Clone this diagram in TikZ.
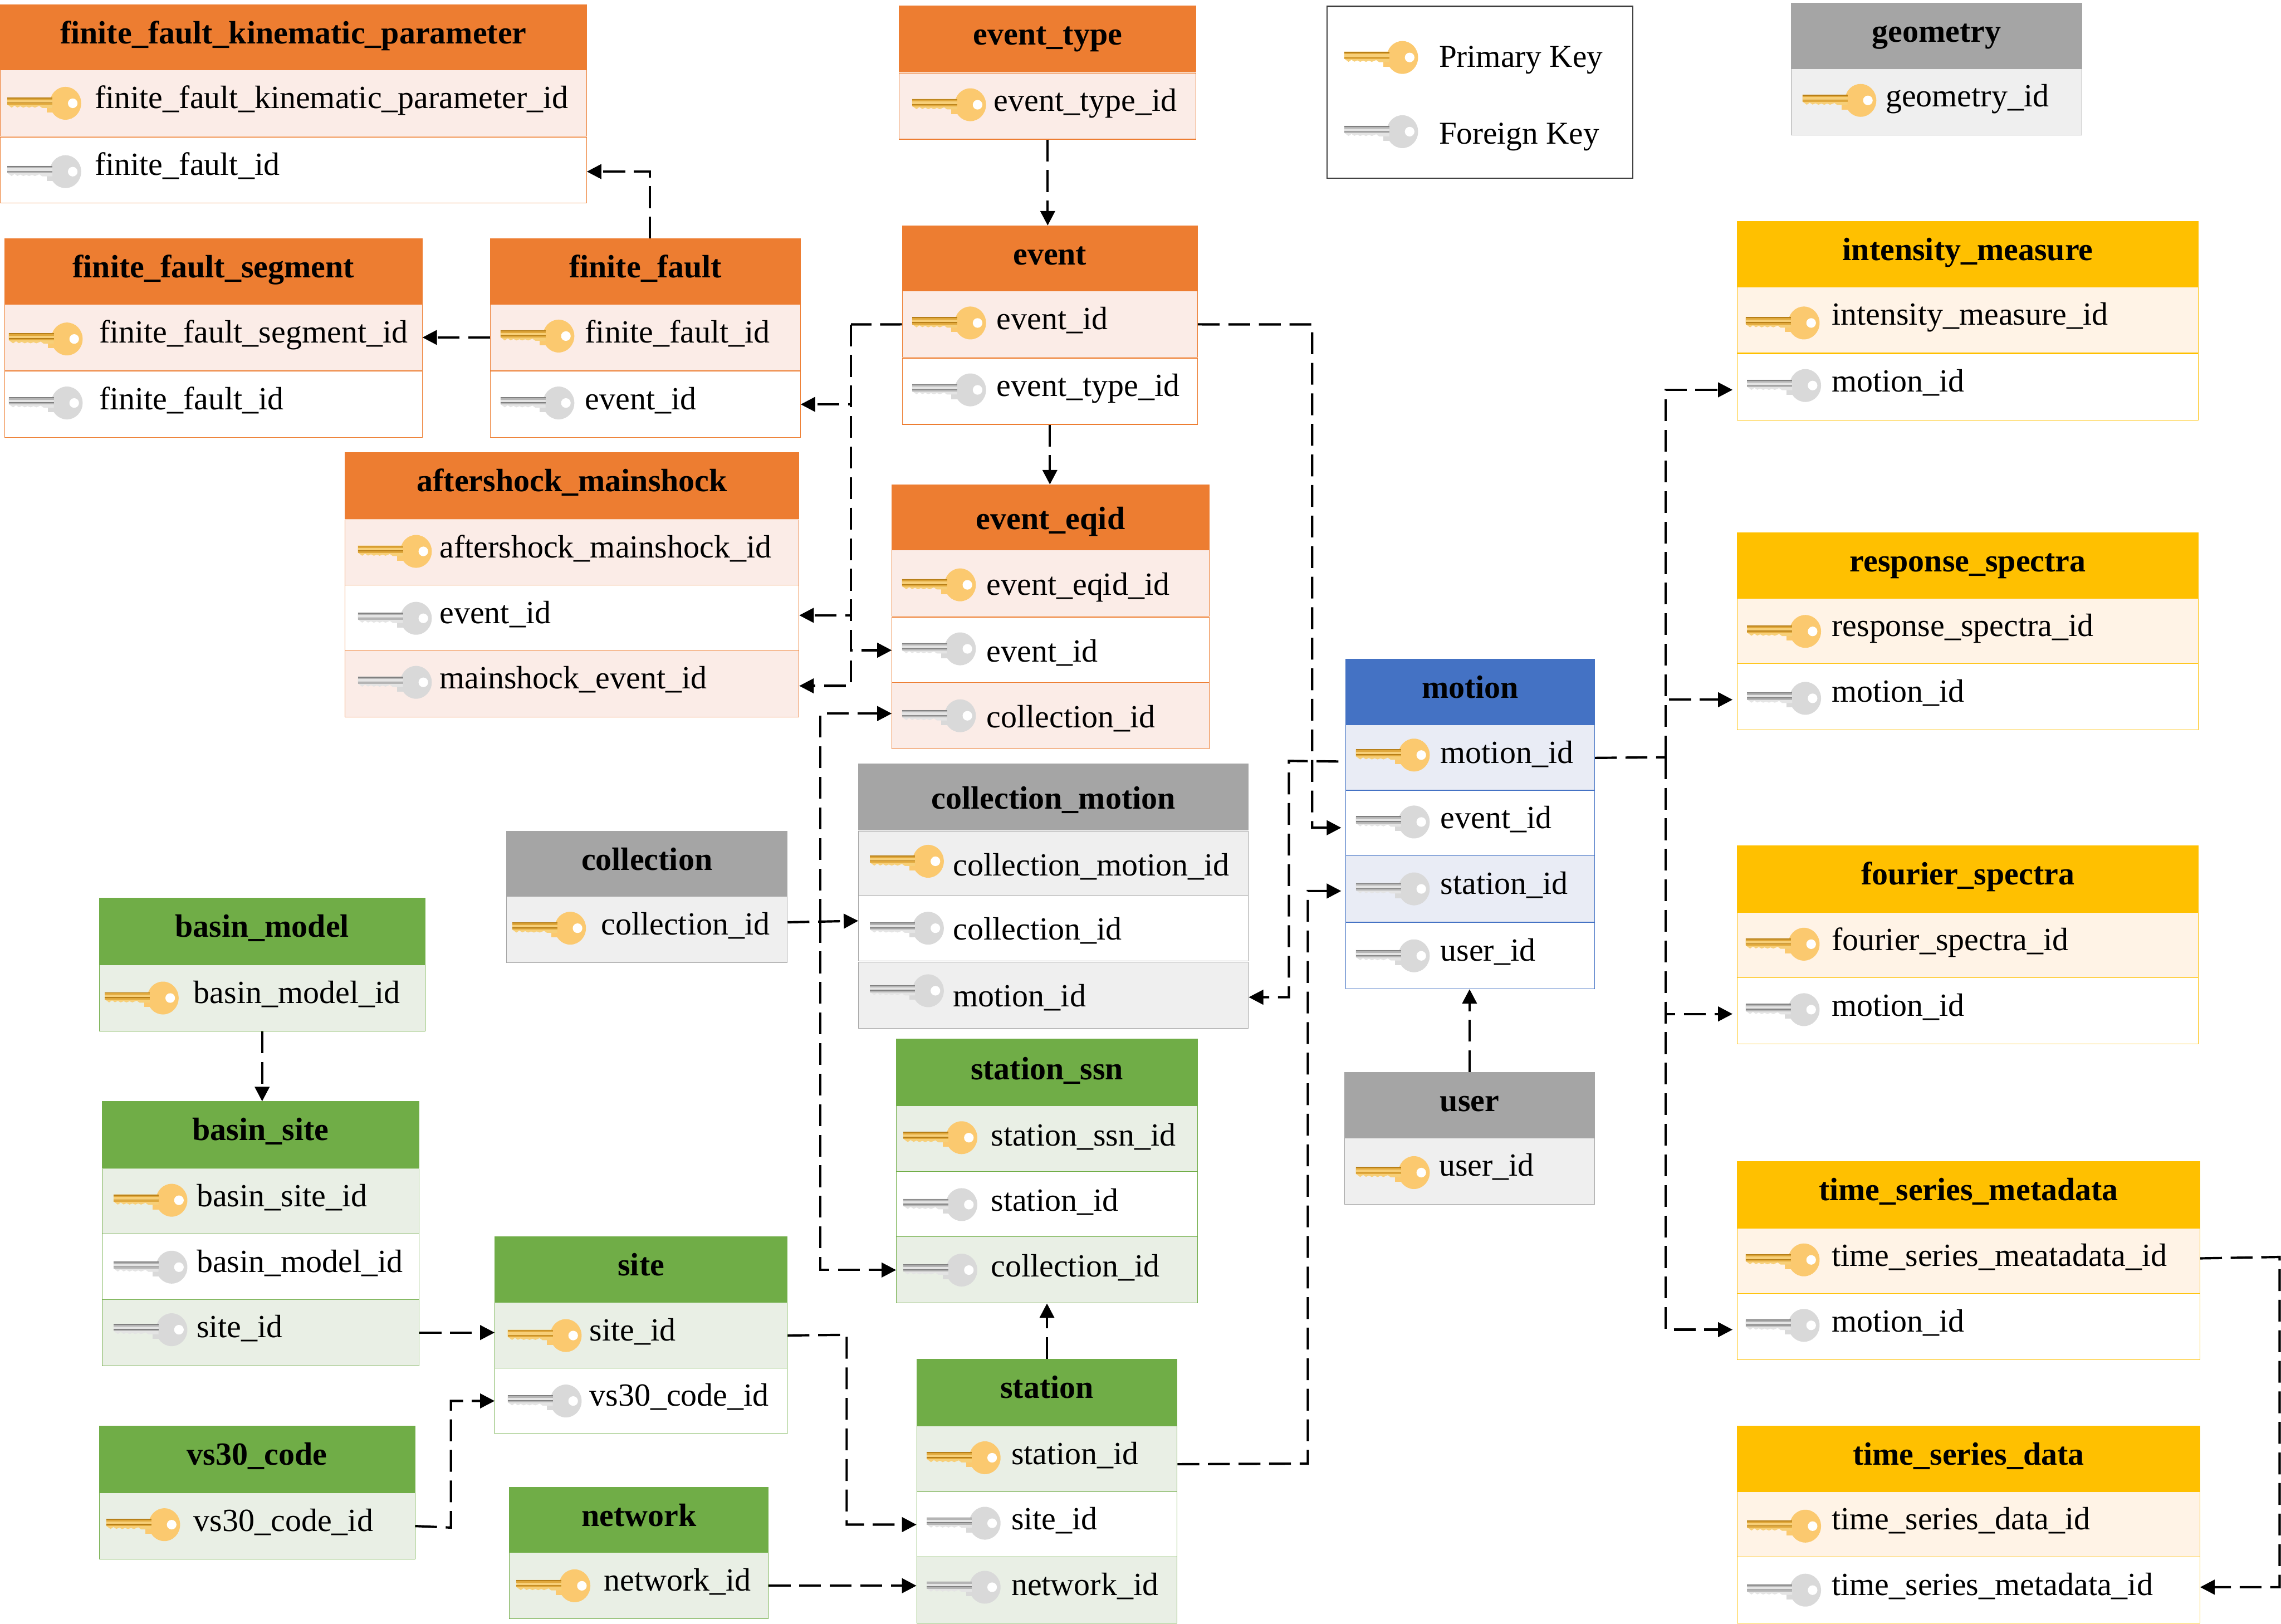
\documentclass[tikz,border=0pt]{standalone}
\usepackage{fontspec}
\setmainfont{Liberation Serif}
\usetikzlibrary{arrows.meta}
\definecolor{hdor}{HTML}{ED7D31}
\definecolor{tnor}{HTML}{FBECE7}
\definecolor{hdgr}{HTML}{A5A5A5}
\definecolor{tngr}{HTML}{EFEFEF}
\definecolor{hdgn}{HTML}{70AD47}
\definecolor{tngn}{HTML}{E9EFE5}
\definecolor{hdbl}{HTML}{4472C4}
\definecolor{tnbl}{HTML}{E9ECF5}
\definecolor{hdyl}{HTML}{FFC000}
\definecolor{tnyl}{HTML}{FFF3E6}
\tikzset{
  headbar/.style={rectangle,anchor=north west,fill=hd#1,draw=hd#1,inner sep=0pt,minimum height=45.5pt,
    text height=15pt,text depth=7pt,font=\fontsize{22.2}{26}\selectfont\bfseries},
  tintrow/.style={rectangle,anchor=north west,fill=tn#1,draw=hd#1,inner sep=0pt,minimum height=45.5pt,align=left,
    text height=14pt,text depth=7pt,font=\fontsize{22.2}{26}\selectfont},
  whiterow/.style={tintrow=#1,fill=white},
  lowtext/.style={text height=23pt},
  legendtext/.style={anchor=base west,inner sep=0pt,font=\fontsize{21.9}{26}\selectfont},
  fkline/.style={line width=1.6pt,dash pattern=on 15pt off 6pt,-{Triangle[length=10pt,width=10pt]}},
  fkgap/.style={fkline,shorten >=3pt},
  fkplain/.style={line width=1.6pt,dash pattern=on 15pt off 6pt},
  keyshape/.pic={
    \fill[keyhead] (27,-4) rectangle (36,6.3);
    \fill[keyhead] (40,0) ellipse [x radius=10.8, y radius=11.3];
    \fill[white] (45,0) ellipse [x radius=3.3, y radius=3.3];
    \fill[keylight] (0,-4) -- (31,-4) -- (31,3.2) -- (24,3.2) -- (22,1.8) -- (19,3) -- (17,2.2) -- (15,3)
      -- (13,2.2) -- (11,3) -- (9,2) -- (7,2.9) -- (5,1.6) -- (3,3) -- (0,.8) -- cycle;
    \fill[keydark] (0,-4) rectangle (31,-3.3);
    \fill[keydark] (0,-.6) rectangle (31,0);
    \fill[keymid] (0,-3.3) rectangle (31,-2.2);
    \fill[keymid] (0,0) rectangle (31,1);
  },
  pkey/.pic={\definecolor{keyhead}{HTML}{FBC96F}
    \definecolor{keylight}{HTML}{F7CF78}\definecolor{keydark}{HTML}{B77F18}\definecolor{keymid}{HTML}{E0A83C}
    \pic {keyshape};},
  fkey/.pic={\definecolor{keyhead}{HTML}{D9D9D9}
    \definecolor{keylight}{HTML}{E4E4E4}\definecolor{keydark}{HTML}{808080}\definecolor{keymid}{HTML}{B5B5B5}
    \pic {keyshape};},
}
% name, x, y, width, family, text
\newcommand{\dbhead}[7][]{\node(#2)[headbar=#6,minimum width=#5,#1] at (#3,#4){#7};}
% name, x, y, width, row style, key, key x, key y, text
\newcommand{\dbrow}[9]{
  \node(#1)[#5,text width=#4] at (#2,#3){\hspace*{65pt}#9};
  \pic at (#7,#8+1) {#6};
}
\begin{document}
\begin{tikzpicture}[x=1pt,y=-1pt]
  \useasboundingbox (0,0) rectangle (1568,1116);
  % orange tables
  \dbhead{ffkp}{0}{3}{403}{or}{finite\_fault\_kinematic\_parameter}
  \dbrow{ffkpid}{0}{48}{403}{tintrow=or}{pkey}{5}{70}{finite\_fault\_kinematic\_parameter\_id}
  \dbrow{ffkpfk}{0}{94}{403}{whiterow=or}{fkey}{5}{117}{finite\_fault\_id}
  \dbhead{etype}{618}{4}{204}{or}{event\_type}
  \dbrow{etid}{618}{50}{204}{tintrow=or}{pkey}{627}{71}{event\_type\_id}
  \dbhead{ev}{620}{155}{203}{or}{event}
  \dbrow{evid}{620}{200}{203}{tintrow=or}{pkey}{627}{221}{event\_id}
  \dbrow{evfk}{620}{246}{203}{whiterow=or}{fkey}{627}{267}{event\_type\_id}
  \dbhead{ffs}{3}{164}{287}{or}{finite\_fault\_segment}
  \dbrow{ffsid}{3}{209}{287}{tintrow=or}{pkey}{6}{232}{finite\_fault\_segment\_id}
  \dbrow{ffsfk}{3}{255}{287}{whiterow=or}{fkey}{6}{276}{finite\_fault\_id}
  \dbhead{ff}{337}{164}{213}{or}{finite\_fault}
  \dbrow{ffid}{337}{209}{213}{tintrow=or}{pkey}{344}{230}{finite\_fault\_id}
  \dbrow{ffev}{337}{255}{213}{whiterow=or}{fkey}{344}{276}{event\_id}
  \dbhead{am}{237}{311}{312}{or}{aftershock\_mainshock}
  \dbrow{amid}{237}{357}{312}{tintrow=or}{pkey}{246}{378}{aftershock\_mainshock\_id}
  \dbrow{amev}{237}{402}{312}{whiterow=or}{fkey}{246}{424}{event\_id}
  \dbrow{ammain}{237}{447}{312}{tintrow=or}{fkey}{246}{468}{mainshock\_event\_id}
  \dbhead[lowtext]{eq}{613}{333}{218}{or}{event\_eqid}
  \dbrow{eqid}{613}{378}{218}{tintrow=or,lowtext}{pkey}{620}{401}{event\_eqid\_id}
  \dbrow{eqev}{613}{424}{218}{whiterow=or,lowtext}{fkey}{620}{445}{event\_id}
  \dbrow{eqcol}{613}{469}{218}{tintrow=or,lowtext}{fkey}{620}{491}{collection\_id}
  % grey tables
  \dbhead{geo}{1231}{2}{200}{gr}{geometry}
  \dbrow{geoid}{1231}{47}{200}{tintrow=gr}{pkey}{1239}{68}{geometry\_id}
  \dbhead[lowtext]{cm}{590}{525}{268}{gr}{collection\_motion}
  \dbrow{cmid}{590}{571}{268}{tintrow=gr,lowtext}{pkey}{598}{591}{collection\_motion\_id}
  \dbrow{cmcol}{590}{615}{268}{whiterow=gr,lowtext}{fkey}{598}{637}{collection\_id}
  \dbrow{cmmot}{590}{661}{268}{tintrow=gr,lowtext}{fkey}{598}{680}{motion\_id}
  \dbhead{col}{348}{571}{193}{gr}{collection}
  \dbrow{colid}{348}{616}{193}{tintrow=gr}{pkey}{352}{637}{collection\_id}
  \dbhead{usr}{924}{737}{172}{gr}{user}
  \dbrow{usrid}{924}{782}{172}{tintrow=gr}{pkey}{932}{805}{user\_id}
  % green tables
  \dbhead{bm}{68}{617}{224}{gn}{basin\_model}
  \dbrow{bmid}{68}{663}{224}{tintrow=gn}{pkey}{72}{685}{basin\_model\_id}
  \dbhead{bs}{70}{757}{218}{gn}{basin\_site}
  \dbrow{bsid}{70}{803}{218}{tintrow=gn}{pkey}{78}{824}{basin\_site\_id}
  \dbrow{bsbm}{70}{848}{218}{whiterow=gn}{fkey}{78}{870}{basin\_model\_id}
  \dbrow{bssite}{70}{893}{218}{tintrow=gn}{fkey}{78}{913}{site\_id}
  \dbhead{site}{340}{850}{201}{gn}{site}
  \dbrow{siteid}{340}{895}{201}{tintrow=gn}{pkey}{349}{917}{site\_id}
  \dbrow{sitevs}{340}{940}{201}{whiterow=gn}{fkey}{349}{962}{vs30\_code\_id}
  \dbhead{vs}{68}{980}{217}{gn}{vs30\_code}
  \dbrow{vsid}{68}{1026}{217}{tintrow=gn}{pkey}{73}{1047}{vs30\_code\_id}
  \dbhead{net}{350}{1022}{178}{gn}{network}
  \dbrow{netid}{350}{1067}{178}{tintrow=gn}{pkey}{355}{1089}{network\_id}
  \dbhead[text height=17pt]{ssn}{616}{714}{207}{gn}{station\_ssn}
  \dbrow{ssnid}{616}{760}{207}{tintrow=gn,text height=16pt}{pkey}{621}{781}{station\_ssn\_id}
  \dbrow{ssnst}{616}{805}{207}{whiterow=gn,text height=16pt}{fkey}{621}{827}{station\_id}
  \dbrow{ssncol}{616}{850}{207}{tintrow=gn,text height=16pt}{fkey}{621}{872}{collection\_id}
  \dbhead{st}{630}{934}{179}{gn}{station}
  \dbrow{stid}{630}{980}{179}{tintrow=gn}{pkey}{637}{1001}{station\_id}
  \dbrow{stsite}{630}{1025}{179}{whiterow=gn}{fkey}{637}{1046}{site\_id}
  \dbrow{stnet}{630}{1070}{179}{tintrow=gn}{fkey}{637}{1090}{network\_id}
  % motion
  \dbhead{mot}{925}{453}{171}{bl}{motion}
  \dbrow{motid}{925}{498}{171}{tintrow=bl}{pkey}{932}{518}{motion\_id}
  \dbrow{motev}{925}{543}{171}{whiterow=bl}{fkey}{932}{564}{event\_id}
  \dbrow{motst}{925}{588}{171}{tintrow=bl}{fkey}{932}{610}{station\_id}
  \dbrow{motus}{925}{634}{171}{whiterow=bl}{fkey}{932}{656}{user\_id}
  % yellow tables
  \dbhead{im}{1194}{152}{317}{yl}{intensity\_measure}
  \dbrow{imid}{1194}{197}{317}{tintrow=yl}{pkey}{1200}{221}{intensity\_measure\_id}
  \dbrow{immot}{1194}{243}{317}{whiterow=yl}{fkey}{1201}{264}{motion\_id}
  \dbhead{rs}{1194}{366}{317}{yl}{response\_spectra}
  \dbrow{rsid}{1194}{411}{317}{tintrow=yl}{pkey}{1201}{433}{response\_spectra\_id}
  \dbrow{rsmot}{1194}{456}{317}{whiterow=yl}{fkey}{1201}{479}{motion\_id}
  \dbhead{fs}{1194}{581}{317}{yl}{fourier\_spectra}
  \dbrow{fsid}{1194}{627}{317}{tintrow=yl}{pkey}{1200}{648}{fourier\_spectra\_id}
  \dbrow{fsmot}{1194}{672}{317}{whiterow=yl}{fkey}{1200}{693}{motion\_id}
  \dbhead{tsm}{1194}{798}{318}{yl}{time\_series\_metadata}
  \dbrow{tsmid}{1194}{844}{318}{tintrow=yl}{pkey}{1200}{865}{time\_series\_meatadata\_id}
  \dbrow{tsmmot}{1194}{889}{318}{whiterow=yl}{fkey}{1200}{910}{motion\_id}
  \dbhead{tsd}{1194}{980}{318}{yl}{time\_series\_data}
  \dbrow{tsdid}{1194}{1025}{318}{tintrow=yl}{pkey}{1201}{1048}{time\_series\_data\_id}
  \dbrow{tsdfk}{1194}{1070}{318}{whiterow=yl}{fkey}{1201}{1092}{time\_series\_metadata\_id}
  % legend
  \node(legend)[draw=black!75,line width=.8pt,minimum width=210,minimum height=118,anchor=north west,inner sep=0pt] at (912,4){};
  \pic at (924,39.5) {pkey};
  \pic at (924,90.5) {fkey};
  \node(pktext)[legendtext] at (989,46){Primary Key};
  \node(fktext)[legendtext] at (989,99){Foreign Key};
  % turning points
  \coordinate(evtrunk) at (585,223);
  \coordinate(evturn) at (902,223);
  \coordinate(coltrunk) at (564,633);
  \coordinate(motturn) at (886,523);
  \coordinate(mottrunk) at (1145,520.5);
  \coordinate(stturn) at (899,1006);
  \coordinate(siteturn) at (582,917.5);
  \coordinate(vsturn) at (310,1050);
  \coordinate(tsturn) at (1567,864);
  % top left
  \draw[fkline] (etid.south) -- (etid.south |- ev.north);
  \draw[fkline] ([xshift=3pt]ff.north) |- ([yshift=-1pt]ffkpfk.east);
  \draw[fkline] (ffid.west) -- (ffsid.east);
  \draw[fkline] (evfk.south) -- (evfk.south |- eq.north);
  \draw[fkplain] (evid.west) -- (evtrunk);
  \draw[fkline] (evtrunk) |- (ffev.east);
  \draw[fkline] (evtrunk) |- ([yshift=2pt]amev.east);
  \draw[fkline] (evtrunk) |- (eqev.west);
  \draw[fkline] (evtrunk) |- ([yshift=-1.5pt]ammain.east);
  \draw[fkgap] (evid.east) -- (evturn) |- ([yshift=-3pt]motev.west);
  % collection
  \draw[fkline] ([yshift=5pt]colid.east) -- ([yshift=5pt]cmcol.west);
  \draw[fkline] (coltrunk) |- ([yshift=1.5pt]eqcol.west);
  \draw[fkline] (coltrunk) |- (ssncol.west);
  % motion
  \draw[fkline] ([xshift=-5pt,yshift=-2.5pt]motid.west) -- (motturn) |- ([yshift=-1.5pt]cmmot.east);
  \draw[fkline] (usr.north) -- (usr.north |- motus.south);
  \draw[fkplain] (motid.east) -- (mottrunk);
  \draw[fkgap] (mottrunk) |- ([yshift=-2pt]immot.west);
  \draw[fkgap] (mottrunk) |- ([yshift=-2pt]rsmot.west);
  \draw[fkgap] (mottrunk) |- ([yshift=-2pt]fsmot.west);
  \draw[fkgap] (mottrunk) |- ([yshift=-2pt]tsmmot.west);
  \draw[fkline] ([yshift=2pt]tsmid.east) -- (tsturn) |- ([yshift=2pt]tsdfk.east);
  % bottom left
  \draw[fkline] (bmid.south) -- (bmid.south |- bs.north);
  \draw[fkline] (bssite.east) -- (bssite.east -| siteid.west);
  \draw[fkline] (vsid.east) -- (vsturn) |- (sitevs.west);
  \draw[fkline] (siteid.east) -- (siteturn) |- (stsite.west);
  \draw[fkline] (netid.east) -- (netid.east -| stnet.west);
  \draw[fkline] (st.north) -- (st.north |- ssncol.south);
  \draw[fkgap] ([yshift=-3.5pt]stid.east) -- (stturn) |- ([yshift=-1.5pt]motst.west);
\end{tikzpicture}
\end{document}
